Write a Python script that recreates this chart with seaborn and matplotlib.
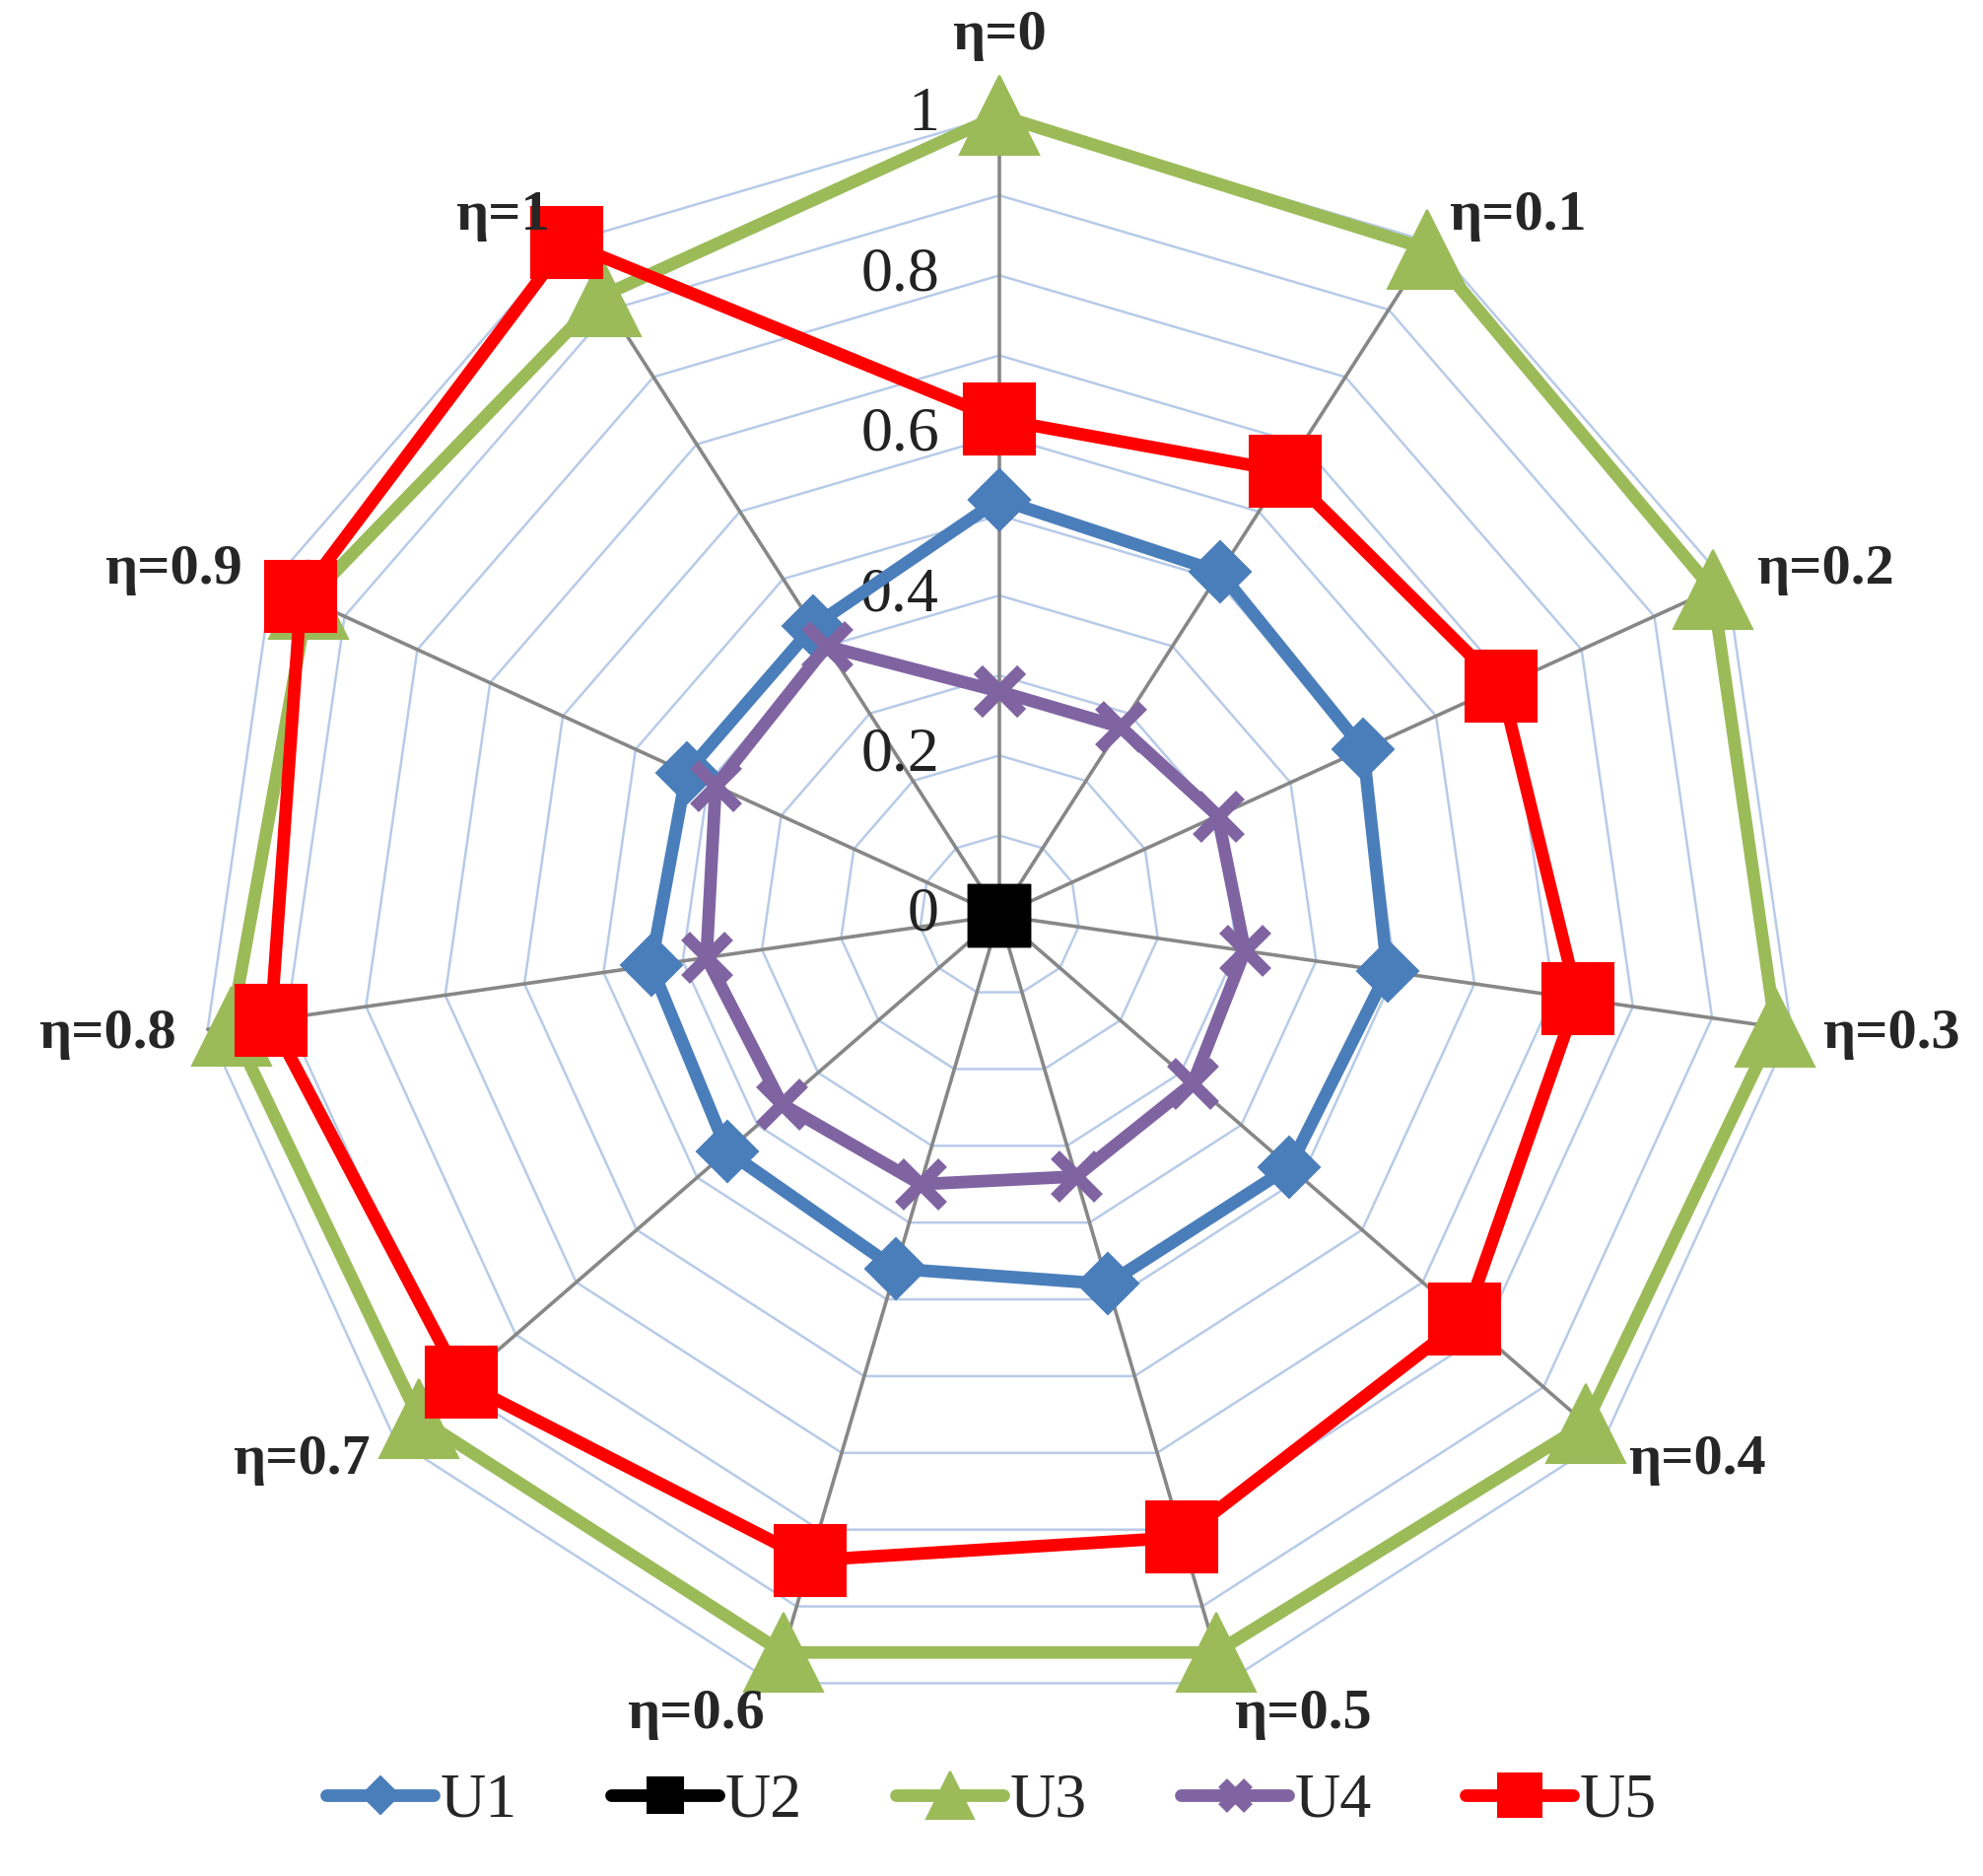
import numpy as np
import pandas as pd
import seaborn as sns
import matplotlib.pyplot as plt

# axis categories
eta_labels = ['η=0', 'η=0.1', 'η=0.2', 'η=0.3', 'η=0.4', 'η=0.5',
              'η=0.6', 'η=0.7', 'η=0.8', 'η=0.9', 'η=1']

# series values
U1 = [0.52, 0.51, 0.50, 0.49, 0.48, 0.48, 0.46, 0.45, 0.44, 0.43, 0.43]
U2 = [0, 0, 0, 0, 0, 0, 0, 0, 0, 0, 0]
U3 = [1.00, 0.99, 0.98, 0.98, 0.97, 0.96, 0.96, 0.96, 0.97, 0.95, 0.92]
U4 = [0.28, 0.28, 0.30, 0.31, 0.32, 0.34, 0.35, 0.36, 0.37, 0.39, 0.40]
U5 = [0.62, 0.66, 0.69, 0.73, 0.77, 0.81, 0.84, 0.89, 0.92, 0.96, 1.00]

radial_ticks = [0, 0.2, 0.4, 0.6, 0.8, 1]
radial_labels = ['0', '0.2', '0.4', '0.6', '0.8', '1']

sns.set_style("white")
plt.rcParams['font.family'] = ['Liberation Serif', 'DejaVu Serif']

series = {'U1': U1, 'U2': U2, 'U3': U3, 'U4': U4, 'U5': U5}
styles = {
    'U1': dict(color='#4A7EBB', marker='D', markersize=16),
    'U2': dict(color='black', marker='s', markersize=22),
    'U3': dict(color='#9BBB59', marker='^', markersize=29),
    'U4': dict(color='#8064A2', marker='x', markersize=16, markeredgewidth=4.5),
    'U5': dict(color='#FF0000', marker='s', markersize=26),
}

n = len(eta_labels)
angles = np.linspace(0, 2 * np.pi, n, endpoint=False)

fig = plt.figure(figsize=(10.06, 9.515), dpi=200)
ax = fig.add_axes([0.1005, 0.0855, 0.807, 0.853], polar=True)
ax.set_theta_zero_location('N')
ax.set_theta_direction(-1)
ax.set_ylim(0, 1)
ax.grid(False)
ax.spines['polar'].set_visible(False)
ax.set_xticks([])
ax.set_yticks([])

# polygon grid every 0.1
closed = np.append(angles, angles[0])
for r in np.arange(1, 11) / 10:
    ax.plot(closed, [r] * len(closed), color='#B7CBE8', lw=0.9, zorder=1, clip_on=False)
# spokes
for a in angles:
    ax.plot([a, a], [0, 1], color='#878787', lw=1.3, zorder=1, clip_on=False)

for name, vals in series.items():
    df = pd.DataFrame({'theta': closed, 'value': list(vals) + [vals[0]]})
    sns.lineplot(data=df, x='theta', y='value', sort=False, estimator=None,
                 ax=ax, label=name, lw=4.6, clip_on=False, zorder=3,
                 markeredgecolor=styles[name]['color'], **styles[name])
ax.set_xlabel('')
ax.set_ylabel('')

# radial value labels along the top spoke
for t, lab in zip(radial_ticks, radial_labels):
    ax.annotate(lab, xy=(0, t), xytext=(-22, 0), textcoords='offset points',
                ha='right', va='center', fontsize=23, color='#222222', zorder=2)

# category labels
for a, lab in zip(angles, eta_labels):
    if lab == 'η=0':
        ax.text(a, 1.10, lab, ha='center', va='center', fontsize=21, fontweight='bold')
    else:
        ha = 'left' if np.sin(a) > 0 else 'right'
        ax.text(a, 1.04, lab, ha=ha, va='center', fontsize=21, fontweight='bold')

handles, labels = ax.get_legend_handles_labels()
ax.get_legend().remove()
fig.legend(handles, labels, loc='lower center', bbox_to_anchor=(0.5, -0.006),
           ncol=5, frameon=False, fontsize=23, markerscale=0.6,
           handlelength=1.7, columnspacing=1.5, handletextpad=0.1)

fig.savefig('out.png', dpi=200, facecolor='white')
